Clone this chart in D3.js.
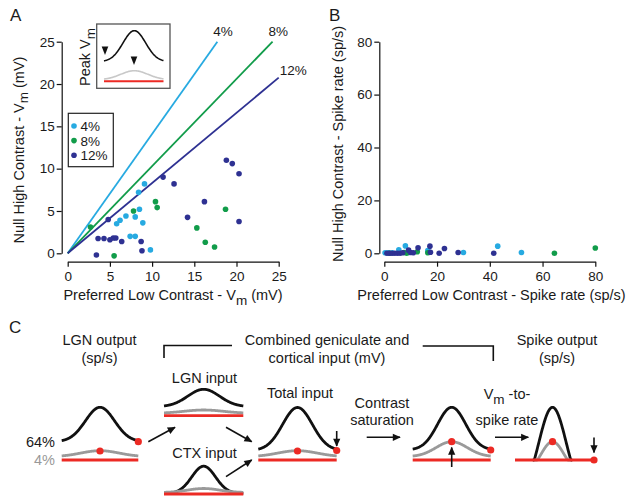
<!DOCTYPE html>
<html><head><meta charset="utf-8">
<script src="https://cdn.jsdelivr.net/npm/d3@7"></script>
<style>
body{margin:0;background:#fff}
svg text{font-family:"Liberation Sans",Arial,Helvetica,sans-serif}
</style></head>
<body><svg id="c" width="635" height="501" fill="#1a1a1a"></svg>
<script>
// ---------------- data ----------------
const seriesLabels = ["4%", "8%", "12%"];
const seriesColors = ["#27aae1", "#119c4a", "#2e3192"];
const fitSlopes = [1.41, 1.03, 0.83];
const vmTicks = [0, 5, 10, 15, 20, 25];
const spkTicks = [0, 20, 40, 60, 80];

// Panel A: preferred low contrast Vm vs null high contrast Vm (mV)
const vm4 = [[9.1,8.2],[8.4,7.2],[8.5,5.2],[8.0,4.3],[6.9,4.4],[6.2,3.9],[5.8,3.5],[8.9,3.6],[7.4,2.0],[8.0,2.0],[9.8,0.4]];
const vm8 = [[2.7,3.1],[7.8,5.0],[10.4,6.1],[10.6,5.4],[15.3,3.0],[16.3,1.3],[17.4,0.75],[18.7,5.2],[5.5,-0.3]];
const vm12 = [[3.4,-0.2],[3.6,1.75],[4.3,1.75],[5.0,1.6],[5.4,1.8],[5.7,1.8],[6.4,1.4],[4.8,4.0],[8.7,1.4],[8.8,0.3],[11.3,9.0],[12.6,8.2],[14.2,4.25],[16.2,6.1],[18.8,11.0],[19.5,10.6],[20.3,9.4],[20.3,3.75]];

// Panel B: spike rates (sp/s)
const spk4 = [[0.3,0.2],[1.5,0.2],[3,0.2],[5.5,1.3],[8.0,2.8],[9.5,0.3],[16.5,1.0],[30,0.3],[43,2.7],[52,0.3]];
const spk8 = [[2,0],[7.5,0.3],[8.5,0],[12.5,0.6],[16.5,0.2],[64.5,0],[80,2.0]];
const spk12 = [[1,0],[2,0],[3,0],[4,0],[5,0],[6,0],[7,0.2],[9.2,1.2],[10,0.3],[11,0.2],[12.8,2.1],[17.3,2.7],[17.5,0.4],[20.8,0],[22.8,1.8],[28,0.3],[41.5,0]];

// ---------------- drawing ----------------
const svg = d3.select("#c");
const RED = "#ec2a24", GRAY = "#9a9a9a", BLK = "#111";

svg.append("defs").append("marker")
  .attr("id","arr").attr("viewBox","0 -5 10 10").attr("refX",9).attr("refY",0)
  .attr("markerUnits","userSpaceOnUse").attr("markerWidth",9).attr("markerHeight",8)
  .attr("orient","auto")
  .append("path").attr("d","M0,-4.5L10,0L0,4.5Z").attr("fill",BLK);

function styleAxis(g){
  g.selectAll("text").attr("font-size",13.5).attr("fill","#1a1a1a");
  g.attr("font-family",null);
  g.selectAll("line,path").attr("stroke","#111").attr("stroke-width",1.2);
}

function scatterPanel(x, y, xTicks, yTicks, xAxisY, yAxisX, series){
  svg.append("g").attr("transform",`translate(0,${xAxisY})`)
    .call(d3.axisBottom(x).tickValues(xTicks).tickSize(5).tickSizeOuter(0).tickPadding(5).tickFormat(d3.format("d")))
    .call(styleAxis);
  svg.append("g").attr("transform",`translate(${yAxisX},0)`)
    .call(d3.axisLeft(y).tickValues(yTicks).tickSize(5).tickSizeOuter(0).tickPadding(2).tickFormat(d3.format("d")))
    .call(styleAxis);
  series.forEach((pts,i)=>{
    svg.append("g").selectAll("circle").data(pts).join("circle")
      .attr("cx",d=>x(d[0])).attr("cy",d=>y(d[1])).attr("r",2.8)
      .attr("fill",seriesColors[i]);
  });
}

function labelWithSub(parent, x, y, pre, sub, post, rotate, size){
  const t = parent.append("text").attr("font-size",size).attr("text-anchor","middle").attr("fill","#1a1a1a")
    .attr("transform",`translate(${x},${y})` + (rotate?" rotate(-90)":""));
  t.append("tspan").text(pre);
  t.append("tspan").attr("dy",4.5).attr("font-size",size-1).text(sub);
  t.append("tspan").attr("dy",-4.5).text(post);
  return t;
}

// ---- Panel A ----
const xA = d3.scaleLinear().domain([0,25]).range([67.7,278.7]);
const yA = d3.scaleLinear().domain([0,25]).range([253.3,41.7]);

fitSlopes.forEach((s,i)=>{
  const xe = Math.min(25, 25/s);
  svg.append("line").attr("x1",xA(0)).attr("y1",yA(0)).attr("x2",xA(xe)).attr("y2",yA(s*xe))
    .attr("stroke",seriesColors[i]).attr("stroke-width",1.8);
  const top = 25/s <= 25;
  svg.append("text").attr("font-size",13.5).attr("fill","#1a1a1a")
    .attr("x", xA(xe) + (top ? -4 : 1)).attr("y", yA(s*xe) + (top ? -6 : -2.5))
    .text(seriesLabels[i]);
});
scatterPanel(xA, yA, vmTicks, vmTicks, 261.7, 61.7, [vm4, vm8, vm12]);

labelWithSub(svg, 23.5, 150, "Null High Contrast - V", "m", " (mV)", true, 14.5);
labelWithSub(svg, 173, 300, "Preferred Low Contrast - V", "m", " (mV)", false, 14.5);

// legend
const lg = svg.append("g");
lg.append("rect").attr("x",68.3).attr("y",113.3).attr("width",45).attr("height",53.4)
  .attr("fill","#fff").attr("stroke","#222").attr("stroke-width",1.2);
seriesLabels.forEach((s,i)=>{
  lg.append("circle").attr("cx",74).attr("cy",126+i*14.6).attr("r",2.8).attr("fill",seriesColors[i]);
  lg.append("text").attr("x",80.5).attr("y",131+i*14.6).attr("font-size",13.5).attr("fill","#1a1a1a").text(s);
});

// inset
const ins = svg.append("g");
ins.append("rect").attr("x",96.7).attr("y",24).attr("width",73.3).attr("height",64.3)
  .attr("fill","#fff").attr("stroke","#555").attr("stroke-width",1.3);
const xi = d3.scaleLinear().domain([-1,1]).range([104,163.5]);
const gau = (x,s)=>Math.exp(-x*x/(2*s*s));
const xsamp = d3.range(-1,1.0001,0.02);
const mkLine = (xs, ys) => d3.line().x(d=>xs(d[0])).y(d=>ys(d[1]));
const yi = d3.scaleLinear().domain([0,1]).range([80.7,30.7]);
ins.append("path").attr("d", mkLine(xi,yi)(xsamp.map(x=>[x, 0.38+0.62*gau(x-0.02,0.38)])))
  .attr("fill","none").attr("stroke",BLK).attr("stroke-width",1.6);
ins.append("path").attr("d", mkLine(xi,yi)(xsamp.map(x=>[x, 0.02+0.18*gau(x-0.02,0.45)])))
  .attr("fill","none").attr("stroke","#c8c8c8").attr("stroke-width",1.6);
ins.append("line").attr("x1",104).attr("x2",163.5).attr("y1",81.2).attr("y2",81.2).attr("stroke",RED).attr("stroke-width",2);
[[105,55],[134,65]].forEach(([tx,ty])=>{
  ins.append("path").attr("d",`M${tx-3.3},${ty-8.5}L${tx+3.3},${ty-8.5}L${tx},${ty}Z`).attr("fill",BLK);
});
labelWithSub(svg, 90, 57, "Peak V", "m", "", true, 14.5);

// panel letters
svg.append("text").attr("x",10).attr("y",21).attr("font-size",17).attr("fill","#1a1a1a").text("A");
svg.append("text").attr("x",329).attr("y",21).attr("font-size",17).attr("fill","#1a1a1a").text("B");
svg.append("text").attr("x",9).attr("y",333).attr("font-size",17).attr("fill","#1a1a1a").text("C");

// ---- Panel B ----
const xB = d3.scaleLinear().domain([0,80]).range([384.3,595.3]);
const yB = d3.scaleLinear().domain([0,80]).range([253.3,41.7]);
scatterPanel(xB, yB, spkTicks, spkTicks, 261.7, 379.3, [spk4, spk8, spk12]);
svg.append("text").attr("font-size",14.5).attr("text-anchor","middle").attr("fill","#1a1a1a")
  .attr("transform","translate(342.5,144) rotate(-90)").text("Null High Contrast - Spike rate (sp/s)");
svg.append("text").attr("font-size",14.5).attr("text-anchor","middle").attr("fill","#1a1a1a")
  .attr("x",491.5).attr("y",300).text("Preferred Low Contrast - Spike rate (sp/s)");

// ---- Panel C (schematic) ----
const C = svg.append("g");
function ctext(x,y,str,anchor="middle",fill="#1a1a1a"){
  return C.append("text").attr("x",x).attr("y",y).attr("font-size",14.5).attr("text-anchor",anchor).attr("fill",fill).text(str);
}
ctext(99.5,345,"LGN output"); ctext(99.5,363,"(sp/s)");
ctext(327,345,"Combined geniculate and"); ctext(327,363,"cortical input (mV)");
ctext(557,345,"Spike output"); ctext(557,363,"(sp/s)");
ctext(204.5,383,"LGN input"); ctext(204.5,458,"CTX input");
ctext(300,398,"Total input");
ctext(382,408,"Contrast"); ctext(382,425,"saturation");
labelWithSub(C, 507, 399, "V", "m", " -to-", false, 14.5);
ctext(507,425,"spike rate");
ctext(55,447,"64%","end"); ctext(55,465,"4%","end","#999999");

// brackets
C.append("path").attr("d","M164,358V345.5H232").attr("fill","none").attr("stroke",BLK).attr("stroke-width",1.6);
C.append("path").attr("d","M422.7,346H493.3V361").attr("fill","none").attr("stroke",BLK).attr("stroke-width",1.6);

function miniPanel(x0,x1,yb,curves,dots,redFrom,redTo){
  const xs = d3.scaleLinear().domain([-1,1]).range([x0,x1]);
  const ys = d3.scaleLinear().domain([0,1]).range([yb,yb-1]);
  curves.forEach(c=>{
    const pts = d3.range(c.from??-1, (c.to??1)+0.0001, 0.01).map(x=>[x, c.f(x)]);
    C.append("path").attr("d",mkLine(xs,ys)(pts)).attr("fill","none")
      .attr("stroke",c.color).attr("stroke-width",2.8).attr("stroke-linejoin","round");
  });
  C.append("line").attr("x1",xs(redFrom??-1)).attr("x2",xs(redTo??1)).attr("y1",yb).attr("y2",yb)
    .attr("stroke",RED).attr("stroke-width",2.8);
  dots.forEach(d=>C.append("circle").attr("cx",xs(d[0])).attr("cy",ys(d[1])).attr("r",3.6).attr("fill",RED));
}
miniPanel(61.7,138.3,460,[
  {color:BLK, f:x=>18.3+34.4*gau(x,0.38)},
  {color:GRAY, f:x=>3.3+6*gau(x,0.5)}],
  [[0,9.0],[1,18.3]]);
miniPanel(164,243.3,415.7,[
  {color:BLK, f:x=>9+17.4*gau(x,0.4)},
  {color:GRAY, f:x=>2.4+3.3*gau(x,0.5)}],[]);
miniPanel(164,243.3,494,[
  {color:BLK, f:x=>0.5+27.3*gau(x,0.3)},
  {color:GRAY, f:x=>1.5+4*gau(x,0.4)}],[]);
miniPanel(258.3,336.7,460,[
  {color:BLK, f:x=>9.5+43*gau(x,0.38)},
  {color:GRAY, f:x=>3.3+6*gau(x,0.5)}],
  [[0,9.0],[1,9.5]]);
miniPanel(412.7,490.7,460,[
  {color:BLK, f:x=>10+42.7*gau(x,0.36)},
  {color:GRAY, f:x=>3.3+15*gau(x,0.4)}],
  [[0,18.3],[1,10]]);
const rect = (x,s,t)=>Math.max(0,(gau(x,s)-t)/(1-t));
miniPanel(515,594,460,[
  {color:BLK, from:-0.55, to:0.45, f:x=>52.7*rect(x+0.05,0.35,0.42)},
  {color:GRAY, from:-0.5, to:0.4, f:x=>18.3*rect(x+0.05,0.29,0.42)}],
  [[-0.05,18.3],[1,0]]);

[[148.3,441.7,175,427.3],[226,427.3,251.7,441.7],[226,476.7,251.7,460],
 [366.7,437.3,400,437.3],[495,437.3,528.3,437.3],
 [336.7,431,336.7,446],[451.7,467,451.7,447.5],[594,437.5,594,452.5]].forEach(a=>{
  C.append("line").attr("x1",a[0]).attr("y1",a[1]).attr("x2",a[2]).attr("y2",a[3])
    .attr("stroke",BLK).attr("stroke-width",1.6).attr("marker-end","url(#arr)");
});
</script></body></html>
